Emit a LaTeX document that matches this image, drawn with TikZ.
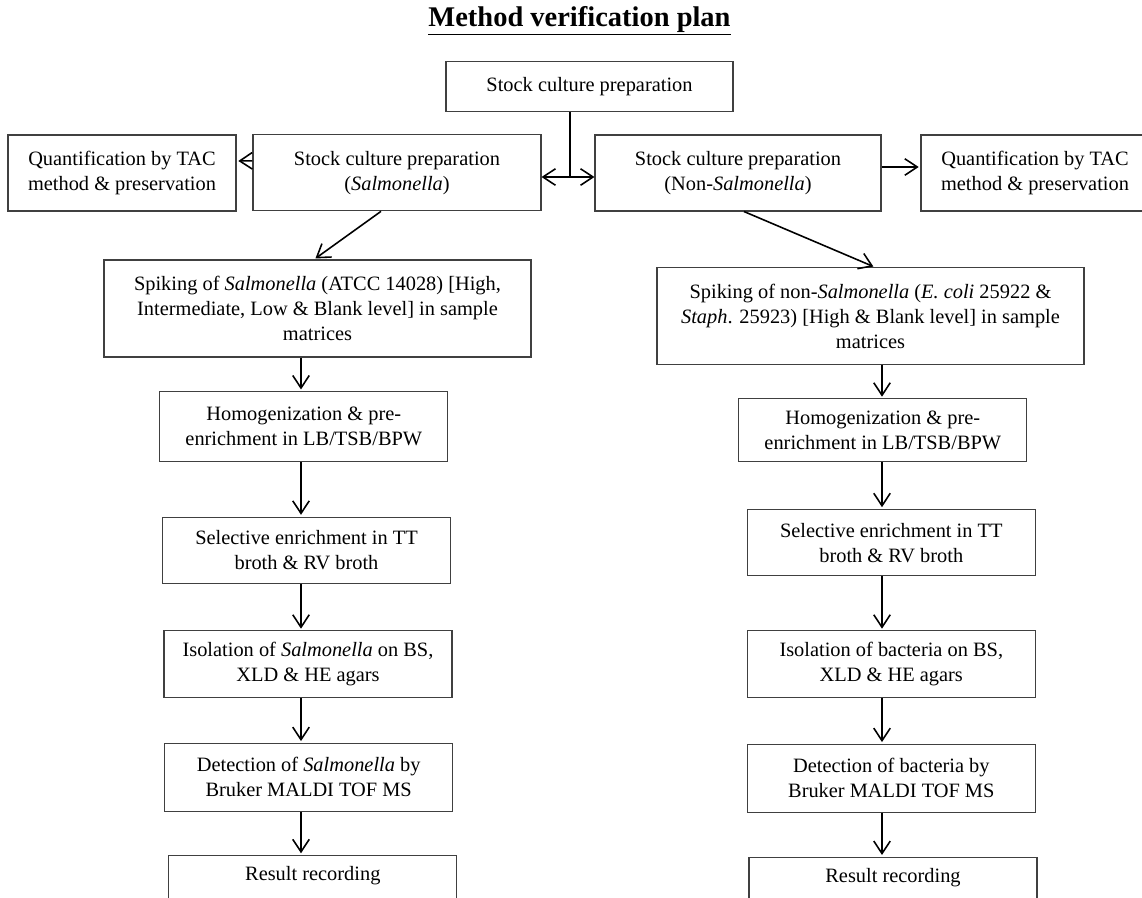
\documentclass[tikz,border=0pt]{standalone}
\usepackage{fontspec}
\setmainfont{Liberation Serif}
\usetikzlibrary{arrows.meta,calc}

\begin{document}
\begin{tikzpicture}[
      font=\fontsize{11.6}{14.2}\selectfont,
      box/.style={draw=black!75, line width=0.6pt, align=center,
                  minimum width=5.76cm, minimum height=1.33cm, inner xsep=2pt},
      stockbox/.style={box, minimum height=1.52cm},
      quant/.style={box, minimum width=4.56cm, minimum height=1.52cm},
      spike/.style={box, minimum width=8.54cm, minimum height=1.94cm},
      result/.style={box, anchor=north, minimum height=0pt, inner ysep=0pt,
                     text height=0.5cm, text depth=1.5cm},
      flow/.style={-{Straight Barb[length=2.5mm,width=3.3mm]}, line width=0.9pt,
                   shorten >=1pt},
      twoway/.style={{Straight Barb[length=2.5mm,width=3.3mm]}-{Straight Barb[length=2.5mm,width=3.3mm]},
                     line width=0.9pt},
      heading/.style={font=\fontsize{16.2}{19}\selectfont\bfseries}
    ]
    \useasboundingbox (0,0) rectangle (22.84,-17.94);
    \clip (0,0) rectangle (22.84,-17.94);

    \node[heading] (plan) at (11.59,-0.42) {\underline{Method verification plan}};

    \node[box, minimum width=5.74cm, minimum height=1cm] (stock) at (11.79,-1.734)
      {Stock culture preparation};
    \node[stockbox] (stockS) at (7.94,-3.456)
      {Stock culture preparation\\(\textit{Salmonella})};
    \node[stockbox, minimum width=5.72cm] (stockN) at (14.76,-3.46)
      {Stock culture preparation\\(Non-\textit{Salmonella})};
    \node[quant] (quantS) at (2.44,-3.46) {Quantification by TAC\\method \& preservation};
    \node[quant] (quantN) at (20.70,-3.46) {Quantification by TAC\\method \& preservation};

    % Salmonella column
    \node[spike] (spikeS) at (6.35,-6.17)
      {Spiking of \textit{Salmonella} (ATCC 14028) [High,\\Intermediate, Low \& Blank level] in sample\\matrices};
    \node[box, minimum height=1.40cm] (homoS) at (6.076,-8.534)
      {Homogenization \& pre-\\enrichment in LB/TSB/BPW};
    \node[box] (selS) at (6.13,-11.006) {Selective enrichment in TT\\broth \& RV broth};
    \node[box] (isoS) at (6.16,-13.284) {Isolation of \textit{Salmonella} on BS,\\XLD \& HE agars};
    \node[box, minimum height=1.354cm] (detS) at (6.174,-15.544)
      {Detection of \textit{Salmonella} by\\Bruker MALDI TOF MS};
    \node[result] (resS) at (6.256,-17.10) {Result recording};

    % non-Salmonella column
    \node[spike, minimum height=1.93cm] (spikeN) at (17.41,-6.32)
      {Spiking of non-\textit{Salmonella} (\textit{E. coli} 25922 \&\\\textit{Staph}. 25923) [High \& Blank level] in sample\\matrices};
    \node[box, minimum height=1.254cm] (homoN) at (17.656,-8.606)
      {Homogenization \& pre-\\enrichment in LB/TSB/BPW};
    \node[box] (selN) at (17.826,-10.854) {Selective enrichment in TT\\broth \& RV broth};
    \node[box] (isoN) at (17.826,-13.284) {Isolation of bacteria on BS,\\XLD \& HE agars};
    \node[box, minimum height=1.354cm] (detN) at (17.826,-15.564)
      {Detection of bacteria by\\Bruker MALDI TOF MS};
    \node[result] (resN) at (17.86,-17.134) {Result recording};

    \coordinate (split) at (11.40,-3.54);
    \coordinate (colS) at (6.02,0);
    \coordinate (colN) at (17.64,0);

    \draw[line width=0.9pt] (stock.south -| split) -- (split);
    \draw[twoway] (stockS.east |- split) -- (stockN.west |- split);
    \draw[flow] ([yshift=0.24cm]stockS.west) -- ([yshift=0.24cm]quantS.east);
    \draw[flow] ([yshift=0.12cm]stockN.east) -- ([yshift=0.12cm]quantN.west);
    \draw[flow] ([xshift=-0.32cm]stockS.south) -- ([xshift=-0.07cm]spikeS.north);
    \draw[flow] ([xshift=0.12cm]stockN.south) -- ([xshift=0.09cm]spikeN.north);

    \foreach \a/\b in {spikeS/homoS, homoS/selS, selS/isoS, isoS/detS, detS/resS}
      \draw[flow] (\a.south -| colS) -- (\b.north -| colS);
    \foreach \a/\b in {spikeN/homoN, homoN/selN, selN/isoN, isoN/detN, detN/resN}
      \draw[flow] (\a.south -| colN) -- (\b.north -| colN);

  \end{tikzpicture}
\end{document}
